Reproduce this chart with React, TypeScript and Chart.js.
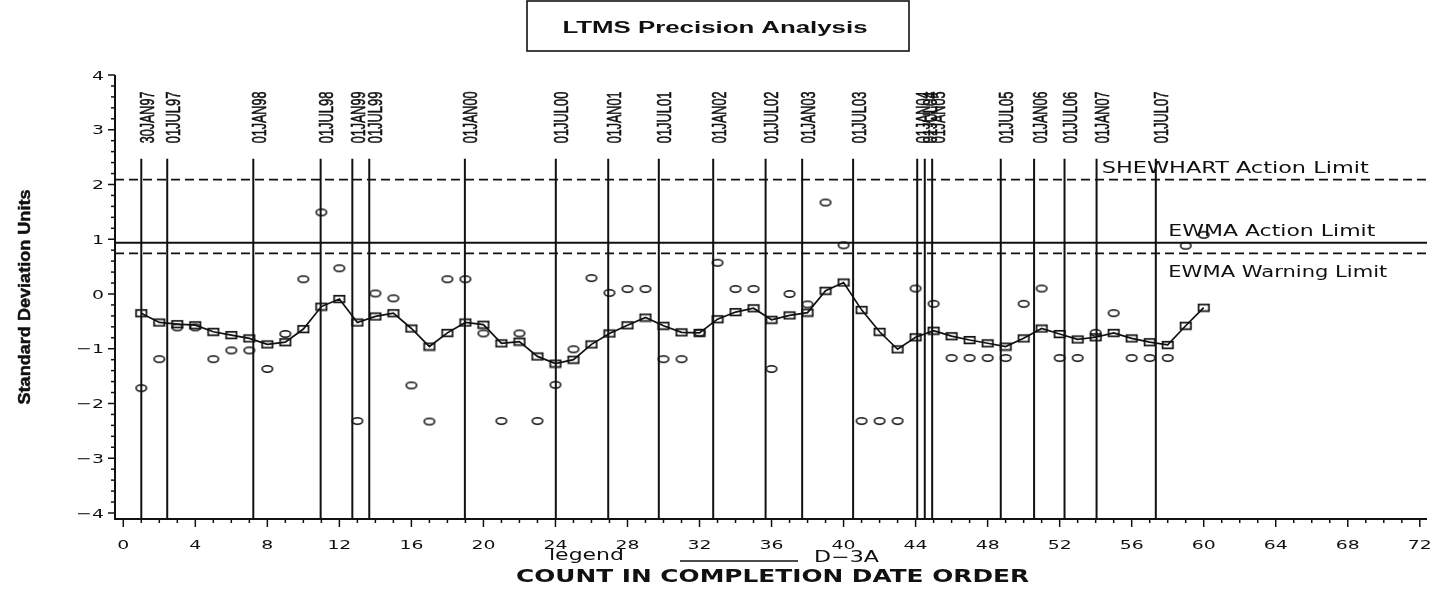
import React, { useEffect, useRef } from 'react';
import { Chart, registerables } from 'chart.js';

Chart.register(...registerables);

// ---------------- data ----------------
const counts = [
  1, 2, 3, 4, 5, 6, 7, 8, 9, 10, 11, 12, 13, 14, 15, 16, 17, 18, 19, 20,
  21, 22, 23, 24, 25, 26, 27, 28, 29, 30, 31, 32, 33, 34, 35, 36, 37, 38, 39, 40,
  41, 42, 43, 44, 45, 46, 47, 48, 49, 50, 51, 52, 53, 54, 55, 56, 57, 58, 59, 60,
];

const individualValues = [
  -1.72, -1.19, -0.61, -0.61, -1.19, -1.03, -1.03, -1.37, -0.73, 0.27,
  1.49, 0.47, -2.32, 0.01, -0.08, -1.67, -2.33, 0.27, 0.27, -0.72,
  -2.32, -0.72, -2.32, -1.66, -1.01, 0.29, 0.02, 0.09, 0.09, -1.19,
  -1.19, -0.71, 0.57, 0.09, 0.09, -1.37, 0.0, -0.19, 1.67, 0.89,
  -2.32, -2.32, -2.32, 0.1, -0.18, -1.17, -1.17, -1.17, -1.17, -0.18,
  0.1, -1.17, -1.17, -0.71, -0.35, -1.17, -1.17, -1.17, 0.88, 1.08,
];

const ewmaValues = [
  -0.35, -0.52, -0.55, -0.57, -0.69, -0.75, -0.81, -0.92, -0.88, -0.64,
  -0.23, -0.09, -0.52, -0.41, -0.35, -0.63, -0.96, -0.71, -0.52, -0.56,
  -0.9, -0.87, -1.14, -1.27, -1.2, -0.92, -0.72, -0.57, -0.43, -0.58,
  -0.7, -0.71, -0.46, -0.33, -0.26, -0.47, -0.39, -0.34, 0.06, 0.21,
  -0.29, -0.69, -1.01, -0.79, -0.67, -0.77, -0.84, -0.9, -0.96, -0.81,
  -0.63, -0.73, -0.83, -0.79, -0.71, -0.81, -0.88, -0.93, -0.58, -0.25,
];

const dateLabels = [
  '30JAN97', '01JUL97', '01JAN98', '01JUL98', '01JAN99', '01JUL99', '01JAN00',
  '01JUL00', '01JAN01', '01JUL01', '01JAN02', '01JUL02', '01JAN03', '01JUL03',
  '01JAN04', '01JUL04', '01JAN05', '01JUL05', '01JAN06', '01JUL06', '01JAN07', '01JUL07',
];
const datePositions = [
  1.0, 2.44, 7.22, 10.96, 12.72, 13.66, 18.97,
  24.02, 26.93, 29.74, 32.76, 35.67, 37.7, 40.53,
  44.09, 44.51, 44.92, 48.73, 50.58, 52.27, 54.05, 57.34,
];
const dateLineTop = 2.47;

const limitNames = ['SHEWHART Action Limit', 'EWMA Action Limit', 'EWMA Warning Limit'];
const limitValues = [2.09, 0.936, 0.743];
const limitDashed = [true, false, true];

const xTickValues = [0, 4, 8, 12, 16, 20, 24, 28, 32, 36, 40, 44, 48, 52, 56, 60, 64, 68, 72];
const yTickValues = [4, 3, 2, 1, 0, -1, -2, -3, -4];
const yTickLabels = ['4', '3', '2', '1', '0', '\u22121', '\u22122', '\u22123', '\u22124'];

const X_MIN = -0.46;
const X_MAX = 72.4;
const Y_MIN = -4.11;
const Y_MAX = 4;

const INK = '#111111';

// ---------------- helpers ----------------
function fitText(
  ctx: CanvasRenderingContext2D,
  text: string,
  x: number,
  y: number,
  width: number,
  font: string,
  align: CanvasTextAlign,
  rotate = 0,
  thicken = 0,
) {
  ctx.save();
  ctx.translate(x, y);
  if (rotate) ctx.rotate(rotate);
  ctx.font = font;
  const w = ctx.measureText(text).width || 1;
  ctx.scale(width / w, 1);
  ctx.textAlign = align;
  ctx.textBaseline = 'alphabetic';
  ctx.fillStyle = INK;
  ctx.fillText(text, 0, 0);
  if (thicken > 0) {
    ctx.strokeStyle = INK;
    ctx.lineWidth = thicken;
    ctx.strokeText(text, 0, 0);
  }
  ctx.restore();
}

function scaledText(
  ctx: CanvasRenderingContext2D,
  text: string,
  x: number,
  y: number,
  sx: number,
  font: string,
  align: CanvasTextAlign,
) {
  ctx.save();
  ctx.translate(x, y);
  ctx.scale(sx, 1);
  ctx.font = font;
  ctx.textAlign = align;
  ctx.textBaseline = 'alphabetic';
  ctx.fillStyle = INK;
  ctx.fillText(text, 0, 0);
  ctx.restore();
}

function makeEllipse(): HTMLCanvasElement {
  const c = document.createElement('canvas');
  c.width = 14;
  c.height = 10;
  const g = c.getContext('2d')!;
  g.strokeStyle = INK;
  g.lineWidth = 1.6;
  g.beginPath();
  g.ellipse(7, 5, 5.2, 3.2, 0, 0, Math.PI * 2);
  g.stroke();
  return c;
}

function makeBox(): HTMLCanvasElement {
  const c = document.createElement('canvas');
  c.width = 14;
  c.height = 10;
  const g = c.getContext('2d')!;
  g.strokeStyle = INK;
  g.lineWidth = 1.7;
  g.strokeRect(1.8, 1.8, 10.4, 6.6);
  return c;
}

const decorPlugin = {
  id: 'sasDecor',
  afterDraw(chart: any) {
    const ctx: CanvasRenderingContext2D = chart.ctx;
    const xs = chart.scales.x;
    const ys = chart.scales.y;
    const ca = chart.chartArea;

    ctx.save();
    ctx.strokeStyle = INK;
    ctx.fillStyle = INK;

    // axes lines
    ctx.lineWidth = 2;
    ctx.beginPath();
    ctx.moveTo(ca.left, ca.top);
    ctx.lineTo(ca.left, ca.bottom);
    ctx.lineTo(ca.right, ca.bottom);
    ctx.stroke();

    // x ticks
    ctx.lineWidth = 1.5;
    for (let v = 0; v <= 72; v += 1) {
      const px = xs.getPixelForValue(v);
      const major = v % 4 === 0;
      ctx.beginPath();
      ctx.moveTo(px, ca.bottom);
      ctx.lineTo(px, ca.bottom + (major ? 8 : 4));
      ctx.stroke();
    }
    // y ticks
    for (let k = -20; k <= 20; k++) {
      const v = k / 5;
      const py = ys.getPixelForValue(v);
      const major = k % 5 === 0;
      ctx.beginPath();
      ctx.moveTo(ca.left, py);
      ctx.lineTo(ca.left - (major ? 7 : 4), py);
      ctx.stroke();
    }

    // tick labels
    const tickFont = "13px 'DejaVu Sans', sans-serif";
    xTickValues.forEach((v) => {
      scaledText(ctx, String(v), xs.getPixelForValue(v), 548.5, 1.45, tickFont, 'center');
    });
    yTickValues.forEach((v, i) => {
      scaledText(ctx, yTickLabels[i], 104, ys.getPixelForValue(v) + 4.7, 1.45, tickFont, 'right');
    });

    // date labels (rotated)
    const dateFont = "20px 'Liberation Sans Narrow', 'Liberation Sans', sans-serif";
    const labelBottom = 143.3;
    dateLabels.forEach((lab, i) => {
      const px = xs.getPixelForValue(datePositions[i]);
      fitText(ctx, lab, px + 12.5, labelBottom, 51.7, dateFont, 'left', -Math.PI / 2, 0.6);
    });

    // limit labels
    const limFont = "15px 'DejaVu Sans', sans-serif";
    fitText(ctx, limitNames[0], 1101.7, 172.7, 267, limFont, 'left');
    fitText(ctx, limitNames[1], 1168.3, 236, 207, limFont, 'left');
    fitText(ctx, limitNames[2], 1168.3, 276.7, 219, limFont, 'left');

    // title box
    ctx.lineWidth = 1.6;
    ctx.strokeRect(527, 1, 382, 50);
    fitText(ctx, 'LTMS Precision Analysis', 715, 33, 305, "bold 16px 'Liberation Sans', Arial, sans-serif", 'center');

    // y axis title
    fitText(
      ctx,
      'Standard Deviation Units',
      30,
      297,
      215,
      "bold 17px 'Liberation Sans Narrow', 'Liberation Sans', sans-serif",
      'center',
      -Math.PI / 2,
      0.5,
    );

    // legend
    fitText(ctx, 'legend', 549, 560, 75, "15px 'DejaVu Sans', sans-serif", 'left');
    ctx.lineWidth = 1.6;
    ctx.beginPath();
    ctx.moveTo(680, 561);
    ctx.lineTo(798, 561);
    ctx.stroke();
    fitText(ctx, 'D\u22123A', 814, 562, 65, "15px 'DejaVu Sans', sans-serif", 'left');

    // x axis title
    fitText(
      ctx,
      'COUNT IN COMPLETION DATE ORDER',
      772.5,
      582,
      513,
      "bold 18px 'DejaVu Sans', sans-serif",
      'center',
    );

    ctx.restore();
  },
};

export default function App() {
  const ref = useRef<HTMLCanvasElement | null>(null);

  useEffect(() => {
    if (!ref.current) return;
    const ellipse = makeEllipse();
    const box = makeBox();

    const datasets: any[] = [];

    datasets.push({
      label: 'D-3A EWMA',
      data: counts.map((c, i) => ({ x: c, y: ewmaValues[i] })),
      showLine: true,
      borderColor: INK,
      borderWidth: 1.7,
      pointStyle: box,
      pointRadius: 5,
      tension: 0,
    });
    datasets.push({
      label: 'D-3A',
      data: counts.map((c, i) => ({ x: c, y: individualValues[i] })),
      showLine: false,
      pointStyle: ellipse,
      pointRadius: 5,
    });
    limitValues.forEach((v, i) => {
      datasets.push({
        label: limitNames[i],
        data: [
          { x: X_MIN, y: v },
          { x: X_MAX, y: v },
        ],
        showLine: true,
        borderColor: INK,
        borderWidth: limitDashed[i] ? 1.8 : 2,
        borderDash: limitDashed[i] ? [9, 5] : [],
        pointRadius: 0,
      });
    });
    datePositions.forEach((p, i) => {
      datasets.push({
        label: dateLabels[i],
        data: [
          { x: p, y: Y_MIN },
          { x: p, y: dateLineTop },
        ],
        showLine: true,
        borderColor: INK,
        borderWidth: 2,
        pointRadius: 0,
      });
    });

    const chart = new Chart(ref.current, {
      type: 'scatter',
      data: { datasets },
      options: {
        animation: false,
        responsive: false,
        devicePixelRatio: 1,
        events: [],
        layout: { padding: { top: 75, right: 21, bottom: 0, left: 0 } },
        plugins: { legend: { display: false }, tooltip: { enabled: false }, title: { display: false } },
        scales: {
          x: {
            type: 'linear',
            min: X_MIN,
            max: X_MAX,
            ticks: { display: false },
            grid: { display: false, drawTicks: false },
            border: { display: false },
            afterFit: (s: any) => {
              s.height = 74;
            },
          },
          y: {
            type: 'linear',
            min: Y_MIN,
            max: Y_MAX,
            ticks: { display: false },
            grid: { display: false, drawTicks: false },
            border: { display: false },
            afterFit: (s: any) => {
              s.width = 115;
            },
          },
        },
      } as any,
      plugins: [decorPlugin],
    });

    return () => chart.destroy();
  }, []);

  return (
    <div style={{ position: 'absolute', left: 0, top: 0, width: 1448, height: 593, background: '#fff' }}>
      <canvas ref={ref} width={1448} height={593} style={{ width: 1448, height: 593, display: 'block' }} />
    </div>
  );
}
